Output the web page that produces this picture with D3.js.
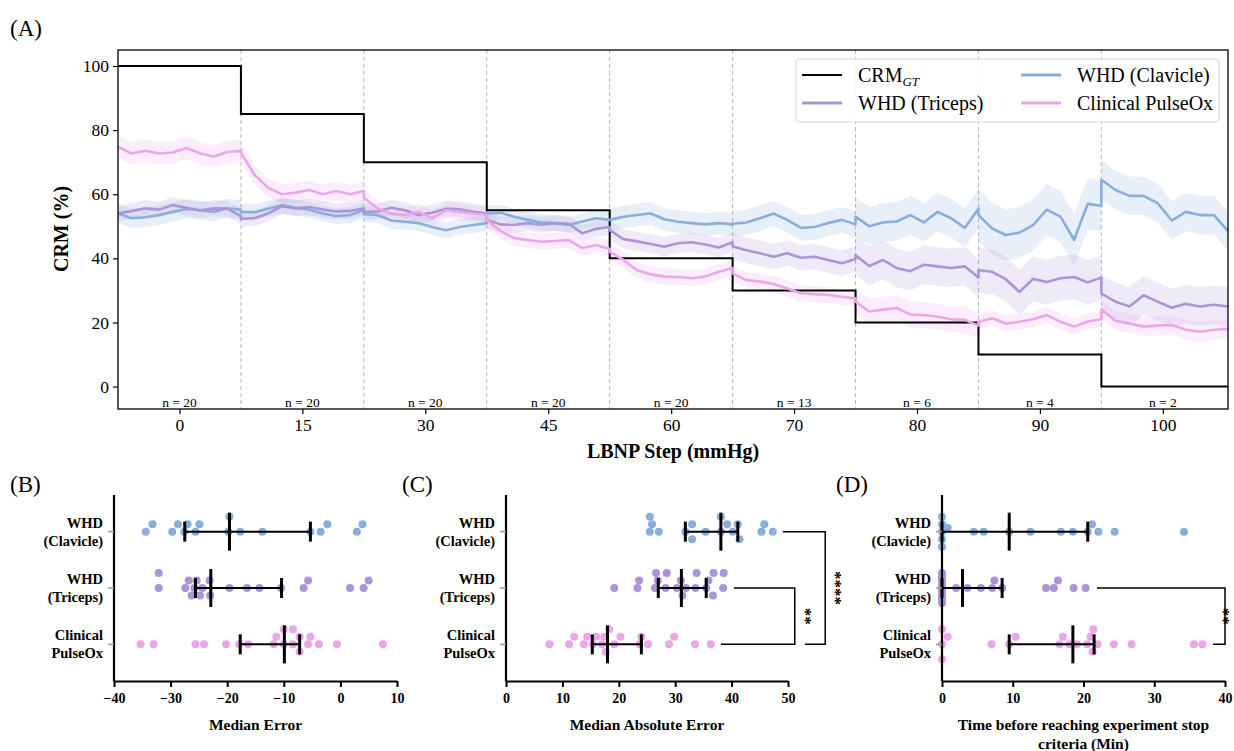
<!DOCTYPE html>
<html>
<head>
<meta charset="utf-8">
<script src="https://cdn.jsdelivr.net/npm/d3@7"></script>
<style>
  body { margin: 0; background: #fff; }
  svg, svg text { font-family: "Liberation Serif", "Times New Roman", serif; }
</style>
</head>
<body>
<div id="chart"></div>
<script>
// ---- panel A data ----
const steps = ["0", "15", "30", "45", "60", "70", "80", "90", "100"];
const crmGT = [100, 85, 70, 55, 40, 30, 20, 10, 0];
const nPerStep = [20, 20, 20, 20, 20, 13, 6, 4, 2];

// 10 samples per LBNP step
const clavicle = [
  54, 52.5, 52.8, 53.5, 54.5, 55.4, 55, 54.5, 55.6, 55.2,
  54.5, 54.4, 55.5, 56.6, 55.8, 55.2, 54, 53.2, 53.5, 55,
  53.8, 53.5, 51.8, 51.4, 51, 49.8, 48.8, 49.8, 50.4, 51,
  54, 54.2, 53, 52, 51.2, 51, 50.4, 51.5, 52.5, 52,
  52, 53, 53.5, 54, 52.2, 51.4, 51, 50.6, 51, 50.6,
  50.8, 51.2, 52.5, 54, 52, 49.5, 49.8, 51, 52, 50.6,
  53, 50, 51.2, 51.5, 53.5, 51.2, 54.5, 52.5, 49.5, 55.5,
  53.5, 49.3, 47.3, 48, 50.4, 55.2, 53, 45.8, 57, 56.4,
  64.5, 61.3, 59.5, 59.5, 57.2, 51.8, 54.5, 53.5, 53.5, 48.5
];
const triceps = [
  54, 54.8, 55.6, 55.2, 56.6, 55.8, 55, 55.6, 55.5, 53.2,
  52.3, 52.6, 54, 56.3, 55.6, 56, 55.2, 54.6, 54.8, 55.6,
  54.5, 54.6, 55.8, 55, 53.5, 54.2, 55.5, 55.3, 54.5, 54,
  52, 50.6, 50.4, 51, 50.5, 51, 50.8, 47.8, 49.2, 49.8,
  48.8, 46, 45.3, 44.5, 43.6, 44.7, 45, 44.3, 43.4, 45,
  43.8, 42.5, 41.6, 40.5, 41.6, 40.2, 40.5, 39.5, 38.5, 39.8,
  41, 37.6, 39.5, 37, 36, 38, 37.5, 37, 37.5, 34,
  36.3, 35.8, 33.5, 29.5, 33.6, 32.6, 33.8, 34.2, 32.5, 34,
  29, 26.5, 25, 28.5, 26.5, 24.6, 25.8, 25, 25.5, 25
];
const pulseOx = [
  74.8, 72.7, 73.6, 72.7, 73, 74.4, 72.8, 71.8, 73.2, 73.5,
  73, 66, 62, 60, 60.5, 61.3, 60, 61, 60, 61,
  59, 55.5, 54, 53.5, 54.5, 52.5, 55, 54.5, 54, 53.5,
  52, 48.5, 46.3, 45.7, 45.2, 45.4, 45.7, 43.2, 44.1, 43,
  42, 39.5, 36.3, 35, 34.3, 34.2, 33.8, 34.3, 35.8, 37,
  35.3, 33.2, 32.8, 32, 30.6, 29.1, 28.8, 28.6, 28, 27.5,
  26.5, 23.4, 24, 24.5, 22.5, 22.3, 21.8, 21, 20.8, 19,
  20.2, 21.3, 19.7, 20.2, 21, 22.3, 20.2, 18.7, 20.3, 21,
  24, 20.5, 19.7, 18.7, 19, 19.2, 17.7, 17.1, 17.7, 18
];
// half-width of the shaded band, per step
const clavicleBand = [3, 2.5, 2.5, 2.5, 3.5, 4, 6, 8, 6];
const tricepsBand = [2.5, 2.5, 2.5, 2.5, 3, 4, 6, 7, 6];
const pulseOxBand = [3.5, 3, 2.5, 2.5, 2.5, 2.5, 4, 2.5, 3];

// ---- panels B-D data ----
const groups = ["WHD (Clavicle)", "WHD (Triceps)", "Clinical PulseOx"];
const groupLines = [["WHD", "(Clavicle)"], ["WHD", "(Triceps)"], ["Clinical", "PulseOx"]];

const medErrClavicle = [-33.2, -28.7, -27, -24.9, -19.6, -2.3, 3.9, -34.4, -29.7, -27.6, -25.6, -19.8, -3.5, 2.9, -17.7, -13.8, -5.3];
const medErrTriceps = [-26.8, -25.4, -23.1, -32.1, -5.7, 5.0, -27.4, -25.8, -24.4, -19.6, -16.5, -14.3, -10.5, 1.7, -32.1, -6.5, 4.1, -26.3, -24.8, -23];
const medErrPulseOx = [-7.2, -11.8, -10, -8.4, -5.3, -35.3, -33, -25.6, -24.1, -20.2, -17.9, -16.3, -3.8, -0.6, 7.5, -11.3, -8.4, -5.7, -10, -7.2];
const medErrStats = [[-27.5, -19.6, -5.3], [-25.6, -22.9, -10.4], [-17.7, -9.9, -7.2]]; // Q1, median, Q3

const maeClavicle = [25.5, 27.1, 33, 39.2, 41.1, 25.9, 31.8, 35.4, 38.1, 41.4, 45.3, 47.3, 25.5, 33, 38.1, 40.2, 45.8];
const maeTriceps = [26.6, 28.3, 30.3, 31.9, 35.5, 36.8, 23.3, 33.6, 38.6, 19.2, 26.4, 31.3, 36.7, 23.6, 33.8, 38.5, 26.9, 28.5, 31, 35.9];
const maePulseOx = [18.3, 11.2, 13.8, 15.4, 17, 20.3, 24, 28.9, 7.7, 33.5, 36.3, 12.1, 14.4, 16, 17.7, 19.2, 23.7, 25.2, 29.8, 17.4];
const maeStats = [[31.8, 38.1, 41.1], [27, 31.1, 35.5], [15.3, 18, 24]];

const timeClavicle = [0, 0, 0, 0, 0, 0.8, 4.5, 5.9, 9.5, 12.5, 16.8, 18.5, 20.6, 21.2, 22.1, 24.4, 34.2];
const timeTriceps = [0, 0, 0, 0, 0, 0, 0, 0, 0, 2, 3.6, 5.5, 7.1, 7.4, 8.5, 14.7, 15.8, 16.4, 18.6, 20.3];
const timePulseOx = [0, 0, 0, 0.8, 7.0, 9.5, 10.4, 16.6, 17.1, 18, 19.1, 20.5, 21, 21.3, 21.4, 22, 24.3, 26.8, 35.6, 36.8];
const timeStats = [[0, 9.5, 20.6], [0, 2.9, 8.5], [9.5, 18.5, 21.5]];

const colors = ["#8aaedb", "#ab95d8", "#eba6ea"];
const serif = "Liberation Serif, Times New Roman, serif";

const W = 1234, H = 751;
const svg = d3.select("#chart").append("svg").attr("width", W).attr("height", H);

// ================= Panel A =================
const xA = d3.scaleLinear().domain([-0.5, 8.53]).range([118, 1228]);
const yA = d3.scaleLinear().domain([-7, 105]).range([409, 50]);
const gA = svg.append("g");

// step dividers
gA.selectAll(".div").data(d3.range(1, steps.length))
  .join("line")
  .attr("x1", d => xA(d - 0.5)).attr("x2", d => xA(d - 0.5))
  .attr("y1", yA.range()[1]).attr("y2", yA.range()[0])
  .attr("stroke", "#b8b8b8").attr("stroke-width", 1).attr("stroke-dasharray", "4,3");

function seriesPoints(vals, band) {
  const per = vals.length / steps.length;
  return vals.map((v, j) => {
    const s = Math.floor(j / per), k = j % per;
    const start = s - 0.5;
    const end = s === steps.length - 1 ? xA.domain()[1] : s + 0.5;
    return { x: start + (end - start) * k / (per - 1), v, lo: v - band[s], hi: v + band[s] };
  });
}
const seriesA = [
  { name: "WHD (Clavicle)", pts: seriesPoints(clavicle, clavicleBand), color: colors[0] },
  { name: "WHD (Triceps)", pts: seriesPoints(triceps, tricepsBand), color: colors[1] },
  { name: "Clinical PulseOx", pts: seriesPoints(pulseOx, pulseOxBand), color: colors[2] }
];
const area = d3.area().x(d => xA(d.x)).y0(d => yA(d.lo)).y1(d => yA(d.hi));
const line = d3.line().x(d => xA(d.x)).y(d => yA(d.v));

gA.selectAll(".band").data(seriesA).join("path")
  .attr("d", d => area(d.pts)).attr("fill", d => d.color).attr("fill-opacity", 0.2);

const stepPts = crmGT.map((v, i) => [i - 0.5, v]).concat([[xA.domain()[1], crmGT[crmGT.length - 1]]]);
gA.append("path")
  .attr("d", d3.line().x(d => xA(d[0])).y(d => yA(d[1])).curve(d3.curveStepAfter)(stepPts))
  .attr("fill", "none").attr("stroke", "#000").attr("stroke-width", 2);

gA.selectAll(".ln").data(seriesA).join("path")
  .attr("d", d => line(d.pts)).attr("fill", "none")
  .attr("stroke", d => d.color).attr("stroke-width", 2.6).attr("stroke-linejoin", "round");

// n labels
gA.selectAll(".nlab").data(nPerStep).join("text")
  .attr("x", (d, i) => xA(i)).attr("y", 407)
  .attr("text-anchor", "middle").attr("font-size", 13.5)
  .text(d => "n = " + d);

// frame
gA.append("rect")
  .attr("x", xA.range()[0]).attr("y", yA.range()[1])
  .attr("width", xA.range()[1] - xA.range()[0]).attr("height", yA.range()[0] - yA.range()[1])
  .attr("fill", "none").attr("stroke", "#000").attr("stroke-width", 1.3);

const axL = gA.append("g").attr("transform", `translate(${xA.range()[0]},0)`)
  .call(d3.axisLeft(yA).tickValues([0, 20, 40, 60, 80, 100]).tickSize(5).tickSizeOuter(0).tickPadding(4));
const axB = gA.append("g").attr("transform", `translate(0,${yA.range()[0]})`)
  .call(d3.axisBottom(xA).tickValues(d3.range(steps.length)).tickFormat(i => steps[i]).tickSize(5).tickSizeOuter(0).tickPadding(5));
[axL, axB].forEach(a => {
  a.attr("font-family", null).attr("font-size", null);
  a.select(".domain").remove();
  a.selectAll("text").style("font-size", "17.5px").style("font-family", serif).attr("fill", "#000");
  a.selectAll("line").attr("stroke", "#000").attr("stroke-width", 1.2);
});

gA.append("text").attr("transform", "translate(68,229) rotate(-90)")
  .attr("text-anchor", "middle").attr("font-size", 20).attr("font-weight", "bold").text("CRM (%)");
gA.append("text").attr("x", 673).attr("y", 458)
  .attr("text-anchor", "middle").attr("font-size", 20).attr("font-weight", "bold").text("LBNP Step (mmHg)");
svg.append("text").attr("x", 10).attr("y", 36).attr("font-size", 23).text("(A)");

// legend
const lg = gA.append("g");
lg.append("rect").attr("x", 796).attr("y", 59).attr("width", 423).attr("height", 63).attr("rx", 3)
  .attr("fill", "#fff").attr("fill-opacity", 0.85).attr("stroke", "#d6d6d6").attr("stroke-width", 1);
const legItems = [
  { label: "CRM", sub: "GT", color: "#000", w: 2, col: 0, row: 0 },
  { label: "WHD (Triceps)", color: colors[1], w: 3, col: 0, row: 1 },
  { label: "WHD (Clavicle)", color: colors[0], w: 3, col: 1, row: 0 },
  { label: "Clinical PulseOx", color: colors[2], w: 3, col: 1, row: 1 }
];
legItems.forEach(it => {
  const lx = it.col === 0 ? 802 : 1021;
  const ly = it.row === 0 ? 75 : 103;
  lg.append("line").attr("x1", lx).attr("x2", lx + 40).attr("y1", ly).attr("y2", ly)
    .attr("stroke", it.color).attr("stroke-width", it.w);
  const t = lg.append("text").attr("x", lx + 56).attr("y", ly + 6.5).attr("font-size", 20).text(it.label);
  if (it.sub) t.append("tspan").attr("font-size", 13).attr("font-style", "italic").attr("dy", 4).text(it.sub);
});

// ================= Panels B-D =================
const rowY = d3.scalePoint().domain(groups).range([495, 681]).padding(0.65);

// GraphPad-like scatter: rows at 0, +-7.5, +-15 px; overflow squeezed in between
function dodge(vals, x, minDist) {
  const placed = [];
  const order = vals.map((v, i) => i).sort((a, b) => vals[a] - vals[b]);
  const main = [0, -7.5, 7.5, -15, 15];
  const extra = [-3.75, 3.75, -11.25, 11.25];
  order.forEach(i => {
    const px = x(vals[i]);
    const minD = c => placed.reduce((m, p) => Math.min(m, Math.hypot(p.px - px, p.off - c)), Infinity);
    let best = main.find(c => minD(c) >= minDist);
    if (best === undefined) {
      let bd = -1;
      main.concat(extra).forEach(c => { const d = minD(c); if (d > bd) { bd = d; best = c; } });
    }
    placed.push({ px, off: best });
  });
  return placed;
}

function dotPanel(o) {
  const g = svg.append("g");
  const x = d3.scaleLinear().domain(o.domain).range(o.range);
  const yTop = rowY.range()[0], yBot = rowY.range()[1];

  // dots
  o.series.forEach((vals, gi) => {
    const cy = rowY(groups[gi]);
    const pts = dodge(vals, x, 7.6);
    g.selectAll(null).data(pts).join("circle")
      .attr("cx", d => d.px).attr("cy", d => cy + d.off).attr("r", 4)
      .attr("fill", colors[gi]);
  });

  // median + interquartile bars
  o.stats.forEach((s, gi) => {
    const cy = rowY(groups[gi]);
    g.append("line").attr("x1", x(s[0])).attr("x2", x(s[2])).attr("y1", cy).attr("y2", cy)
      .attr("stroke", "#000").attr("stroke-width", 2);
    [[s[0], 10], [s[1], 19], [s[2], 10]].forEach(([v, h]) => {
      g.append("line").attr("x1", x(v)).attr("x2", x(v)).attr("y1", cy - h).attr("y2", cy + h)
        .attr("stroke", "#000").attr("stroke-width", 3);
    });
  });

  // significance brackets
  (o.brackets || []).forEach(b => {
    const y1 = rowY(b.from), y2 = rowY(b.to);
    g.append("path")
      .attr("d", `M${x(b.startFrom)},${y1}H${x(b.at)}V${y2}H${x(b.startTo)}`)
      .attr("fill", "none").attr("stroke", "#000").attr("stroke-width", 1.5);
    g.append("text")
      .attr("transform", `translate(${Math.min(x(b.at) + 5, W - 16)},${(y1 + y2) / 2}) rotate(90)`)
      .attr("text-anchor", "middle").attr("font-size", 17).attr("font-weight", "bold").text(b.label);
  });

  // axes
  g.append("line").attr("x1", o.range[0]).attr("x2", o.range[0]).attr("y1", yTop).attr("y2", yBot)
    .attr("stroke", "#000").attr("stroke-width", 2.2);
  g.append("g").attr("transform", `translate(0,${yBot})`)
    .call(d3.axisBottom(x).ticks((o.domain[1] - o.domain[0]) / 10).tickSize(6).tickSizeOuter(0).tickPadding(6))
    .call(a => {
      a.attr("font-family", null).attr("font-size", null);
      a.select(".domain").attr("stroke", "#000").attr("stroke-width", 2.2);
      a.selectAll("line").attr("stroke", "#000").attr("stroke-width", 2);
      a.selectAll("text").style("font-size", "14px").style("font-weight", "bold")
        .style("font-family", serif).attr("fill", "#000");
    });

  // group labels + small ticks
  groups.forEach((grp, gi) => {
    const cy = rowY(grp);
    g.append("line").attr("x1", o.range[0] - 6).attr("x2", o.range[0]).attr("y1", cy).attr("y2", cy)
      .attr("stroke", "#999").attr("stroke-width", 1.5);
    groupLines[gi].forEach((txt, li) => {
      g.append("text").attr("x", o.range[0] - 11).attr("y", cy - 4 + li * 18)
        .attr("text-anchor", "end").attr("font-size", 14.5).attr("font-weight", "bold").text(txt);
    });
  });

  const mid = (o.range[0] + o.range[1]) / 2;
  o.title.forEach((t, li) => {
    g.append("text").attr("x", mid).attr("y", 730 + li * 19)
      .attr("text-anchor", "middle").attr("font-size", 15.5).attr("font-weight", "bold").text(t);
  });
  svg.append("text").attr("x", o.letterX).attr("y", 492).attr("font-size", 23).text(o.letter);
}

dotPanel({
  letter: "(B)", letterX: 10,
  domain: [-40, 10], range: [114, 397],
  series: [medErrClavicle, medErrTriceps, medErrPulseOx], stats: medErrStats,
  title: ["Median Error"]
});
dotPanel({
  letter: "(C)", letterX: 402,
  domain: [0, 50], range: [506, 788],
  series: [maeClavicle, maeTriceps, maePulseOx], stats: maeStats,
  title: ["Median Absolute Error"],
  brackets: [
    { from: "WHD (Triceps)", to: "Clinical PulseOx", startFrom: 40.4, startTo: 38.1, at: 51.2, label: "**" },
    { from: "WHD (Clavicle)", to: "Clinical PulseOx", startFrom: 49.1, startTo: 53, at: 56.6, label: "****" }
  ]
});
dotPanel({
  letter: "(D)", letterX: 836,
  domain: [0, 40], range: [942, 1225],
  series: [timeClavicle, timeTriceps, timePulseOx], stats: timeStats,
  title: ["Time before reaching experiment stop", "criteria (Min)"],
  brackets: [
    { from: "WHD (Triceps)", to: "Clinical PulseOx", startFrom: 21.9, startTo: 38.3, at: 40, label: "**" }
  ]
});
</script>
</body>
</html>
